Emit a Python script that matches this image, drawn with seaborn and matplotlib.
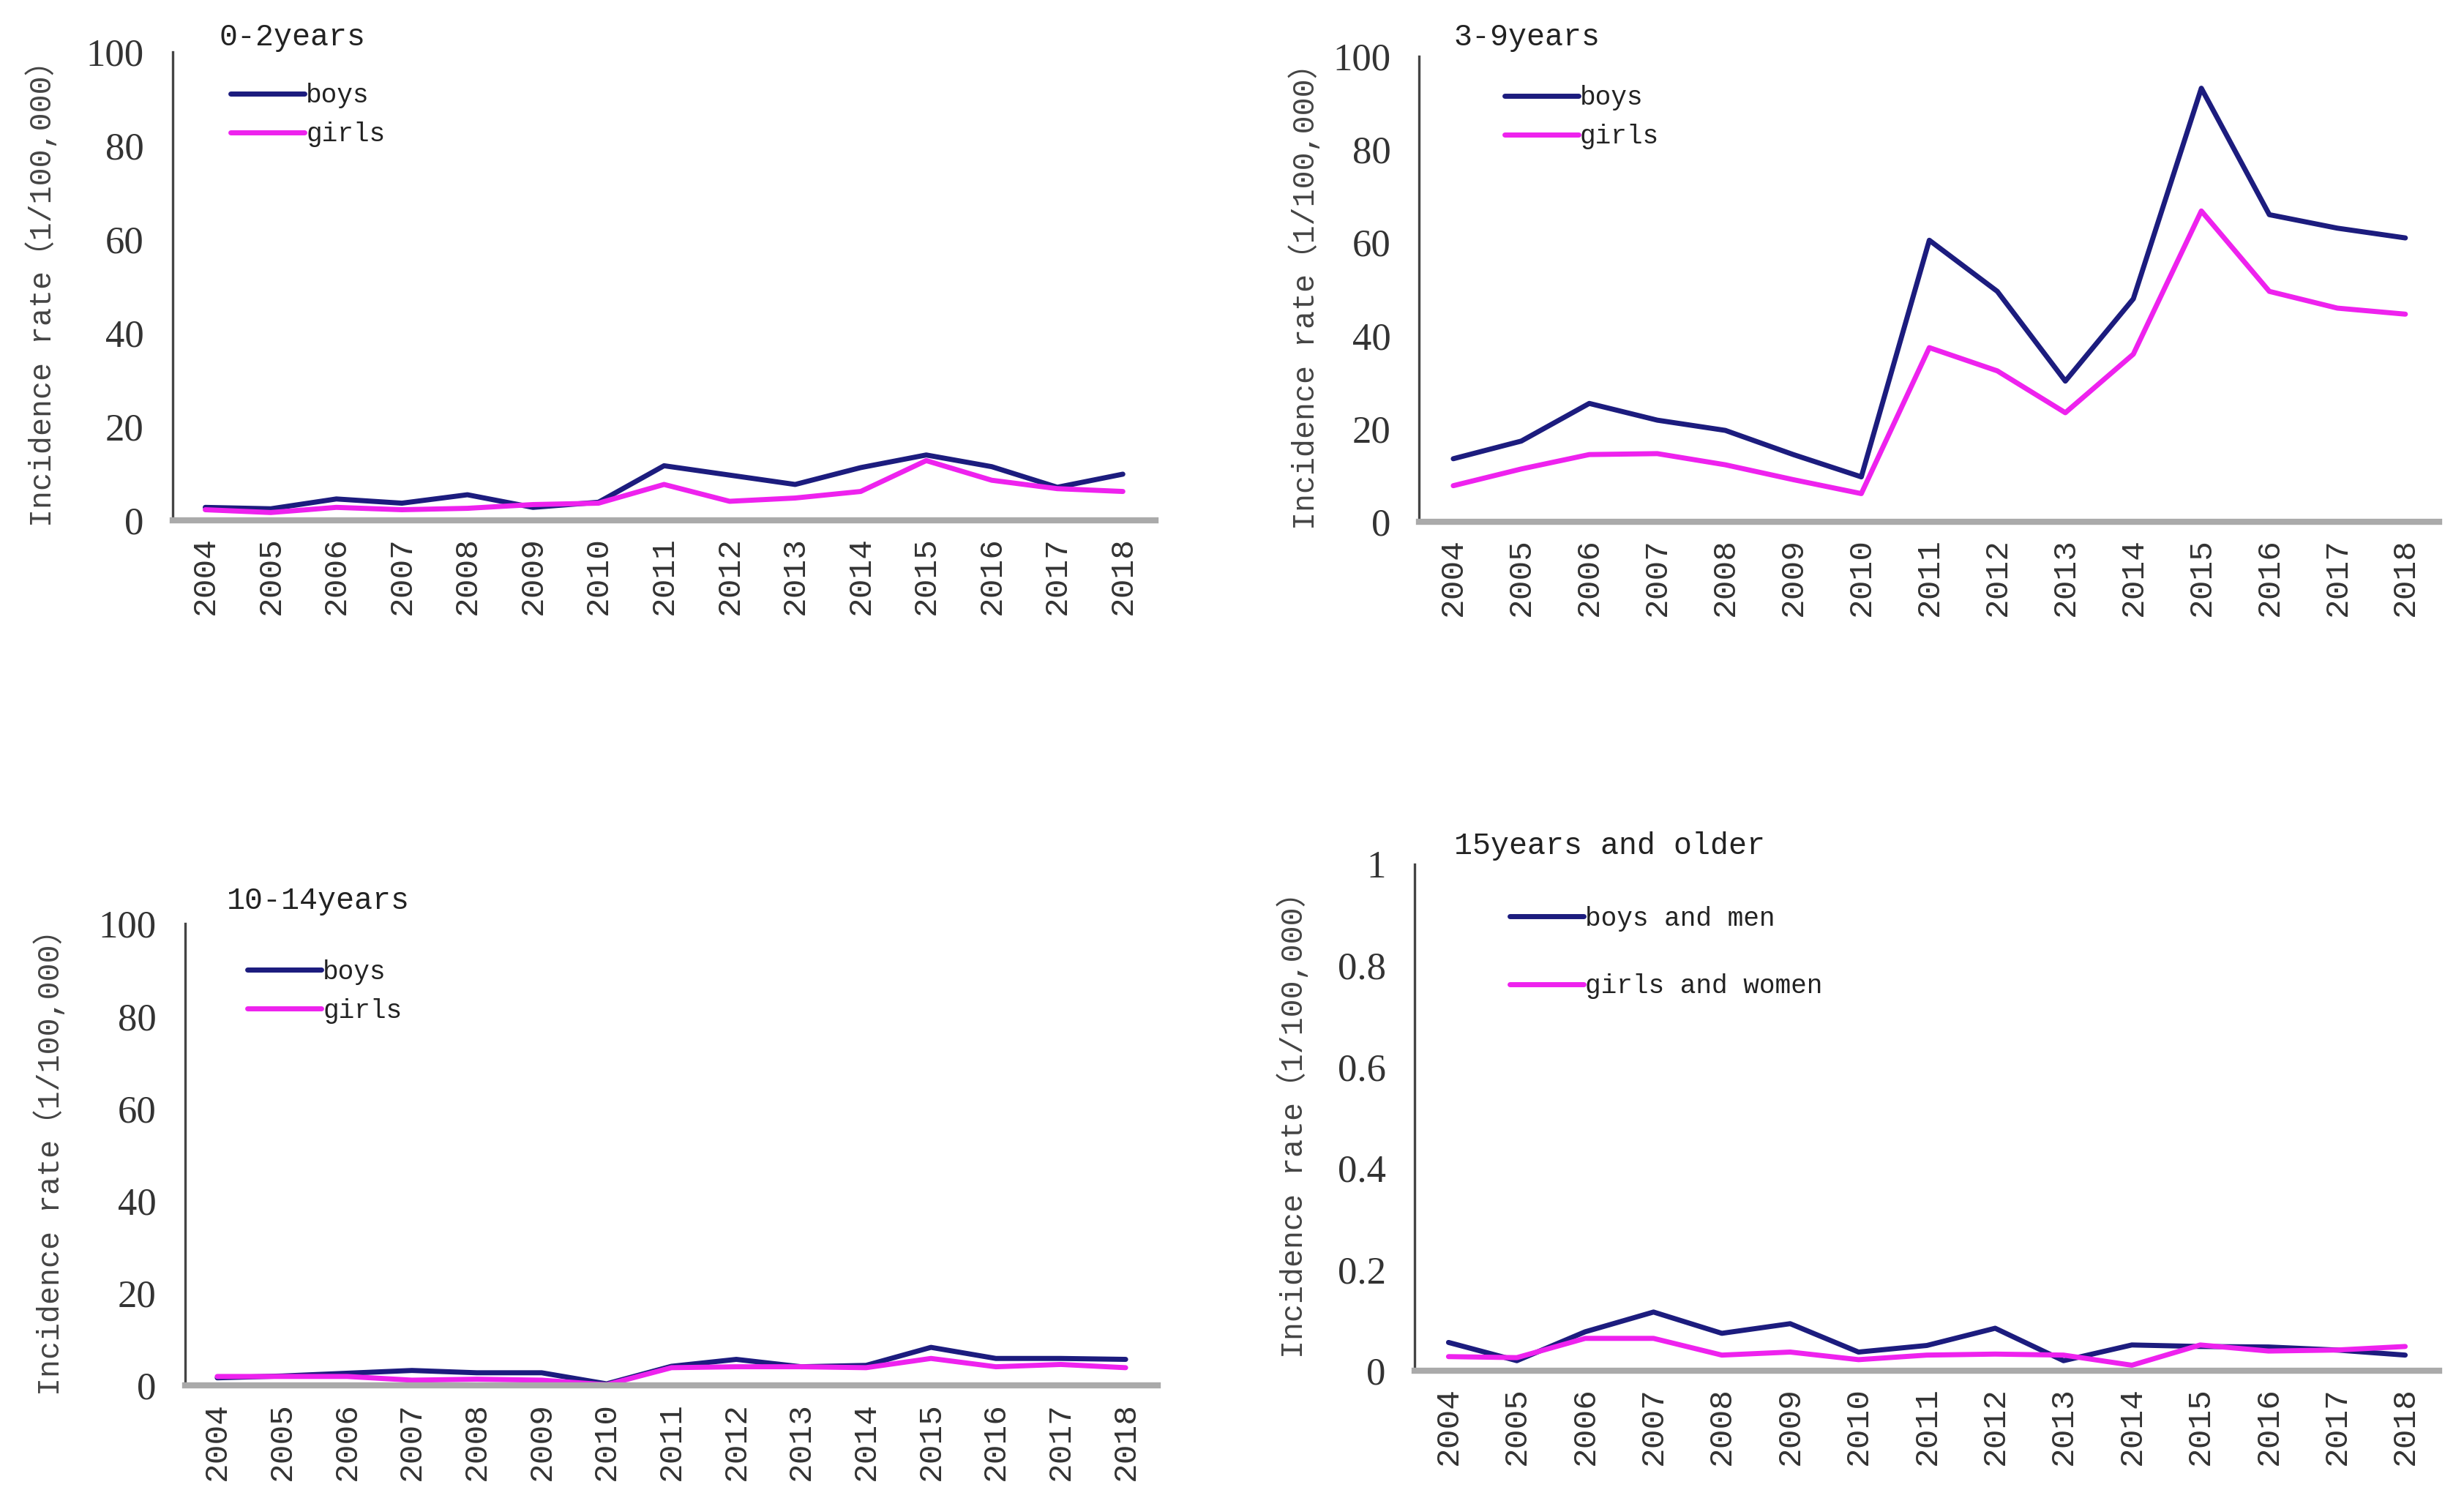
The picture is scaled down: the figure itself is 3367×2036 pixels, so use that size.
import numpy as np
import pandas as pd
import seaborn as sns
import matplotlib.pyplot as plt
from matplotlib.ticker import FixedLocator

years = [str(y) for y in range(2004, 2019)]

# 0-2 years
boys_0_2 = [2.7, 2.4, 4.5, 3.6, 5.4, 2.7, 3.8, 11.6, 9.6, 7.6, 11.2, 13.9, 11.4, 7.0, 9.8]
girls_0_2 = [2.2, 1.6, 2.7, 2.2, 2.5, 3.3, 3.6, 7.6, 4.0, 4.7, 6.1, 12.7, 8.5, 6.7, 6.1]
# 3-9 years
boys_3_9 = [13.5, 17.3, 25.4, 21.8, 19.6, 14.4, 9.6, 60.5, 49.5, 30.2, 47.9, 93.2, 66.0, 63.1, 61.0]
girls_3_9 = [7.7, 11.3, 14.4, 14.6, 12.2, 9.0, 6.0, 37.4, 32.4, 23.4, 36.0, 66.8, 49.5, 45.9, 44.6]
# 10-14 years
boys_10_14 = [1.7, 2.1, 2.7, 3.3, 2.8, 2.8, 0.4, 4.2, 5.7, 4.1, 4.4, 8.3, 5.9, 5.9, 5.7]
girls_10_14 = [2.0, 2.0, 2.0, 1.2, 1.4, 1.2, 0.2, 3.9, 4.1, 4.1, 3.9, 5.9, 4.1, 4.6, 3.9]
# 15 years and older
men_15 = [0.056, 0.020, 0.077, 0.116, 0.074, 0.093, 0.037, 0.050, 0.084, 0.020, 0.051, 0.048, 0.047, 0.041, 0.031]
women_15 = [0.028, 0.026, 0.064, 0.064, 0.031, 0.037, 0.022, 0.031, 0.033, 0.031, 0.011, 0.051, 0.039, 0.041, 0.048]

BOY = '#1c1c7e'
GIRL = '#ee22ee'
serif = ['Liberation Serif', 'DejaVu Serif']
mono = ['Liberation Mono', 'Noto Sans CJK SC', 'DejaVu Sans']

sns.set_style('white')
plt.rcParams['font.family'] = serif

fig = plt.figure(figsize=(16.835, 10.18), dpi=200)

panels = [
    # rect, title, title pos, boys, girls, labels, ymax, yticks, legend anchor, ylabel pad
    ([0.070, 0.651, 0.399, 0.314], '0-2years', (0.089, 0.985), boys_0_2, girls_0_2, ('boys', 'girls'), 100, [0, 20, 40, 60, 80, 100], (0.035, 0.985), 14),
    ([0.576, 0.650, 0.414, 0.312], '3-9years', (0.590, 0.985), boys_3_9, girls_3_9, ('boys', 'girls'), 100, [0, 20, 40, 60, 80, 100], (0.06, 0.99), 6),
    ([0.075, 0.070, 0.395, 0.310], '10-14years', (0.092, 0.405), boys_10_14, girls_10_14, ('boys', 'girls'), 100, [0, 20, 40, 60, 80, 100], (0.04, 0.975), 16),
    ([0.574, 0.080, 0.416, 0.340], '15years and older', (0.590, 0.442), men_15, women_15, ('boys and men', 'girls and women'), 1, [0, 0.2, 0.4, 0.6, 0.8, 1], (0.07, 0.965), 14),
]

for rect, title, tpos, boys, girls, labels, ymax, yticks, lpos, lpad in panels:
    ax = fig.add_axes(rect)
    df = pd.DataFrame({
        'year': years * 2,
        'rate': boys + girls,
        'sex': [labels[0]] * len(years) + [labels[1]] * len(years),
    })
    sns.lineplot(data=df, x='year', y='rate', hue='sex', palette=[BOY, GIRL],
                 linewidth=2.5, ax=ax, sort=False)
    ax.set_xlim(-0.5, len(years) - 0.5)
    ax.set_ylim(0, ymax)
    ax.set_yticks(yticks)
    if ymax == 1:
        ax.set_yticklabels(['0', '0.2', '0.4', '0.6', '0.8', '1'])
    ax.set_xticks(range(len(years)))
    ax.set_xticklabels(years, rotation=90, family=mono, fontsize=16, color='#333333')
    ax.xaxis.set_minor_locator(FixedLocator(np.arange(-0.5, len(years), 1.0)))
    ax.tick_params(axis='x', which='major', length=0, pad=8)
    ax.tick_params(axis='x', which='minor', length=8, width=1.6, color='#333333', direction='out')
    ax.tick_params(axis='y', length=5, width=1, color='#666666', direction='out',
                   labelsize=19, labelcolor='#333333', pad=9)
    ax.set_xlabel('')
    ax.set_ylabel('Incidence rate（1/100,000）', family=mono, fontsize=15, color='#444444', labelpad=lpad)
    for s in ['top', 'right']:
        ax.spines[s].set_visible(False)
    ax.spines['left'].set_color('#444444')
    ax.spines['left'].set_linewidth(1.2)
    ax.spines['bottom'].set_color('#aaaaaa')
    ax.spines['bottom'].set_linewidth(3)
    leg = ax.legend(loc='upper left', bbox_to_anchor=lpos, frameon=False,
                    handlelength=2.8, handletextpad=0.05, labelspacing=0.5 if ymax == 100 else 1.6,
                    prop={'family': mono, 'size': 13})
    for t in leg.get_texts():
        t.set_color('#222222')
    fig.text(tpos[0], tpos[1], title, fontsize=15, family=mono, color='#222222', va='top', ha='left')

fig.savefig('out.png', dpi=200, facecolor='white')
